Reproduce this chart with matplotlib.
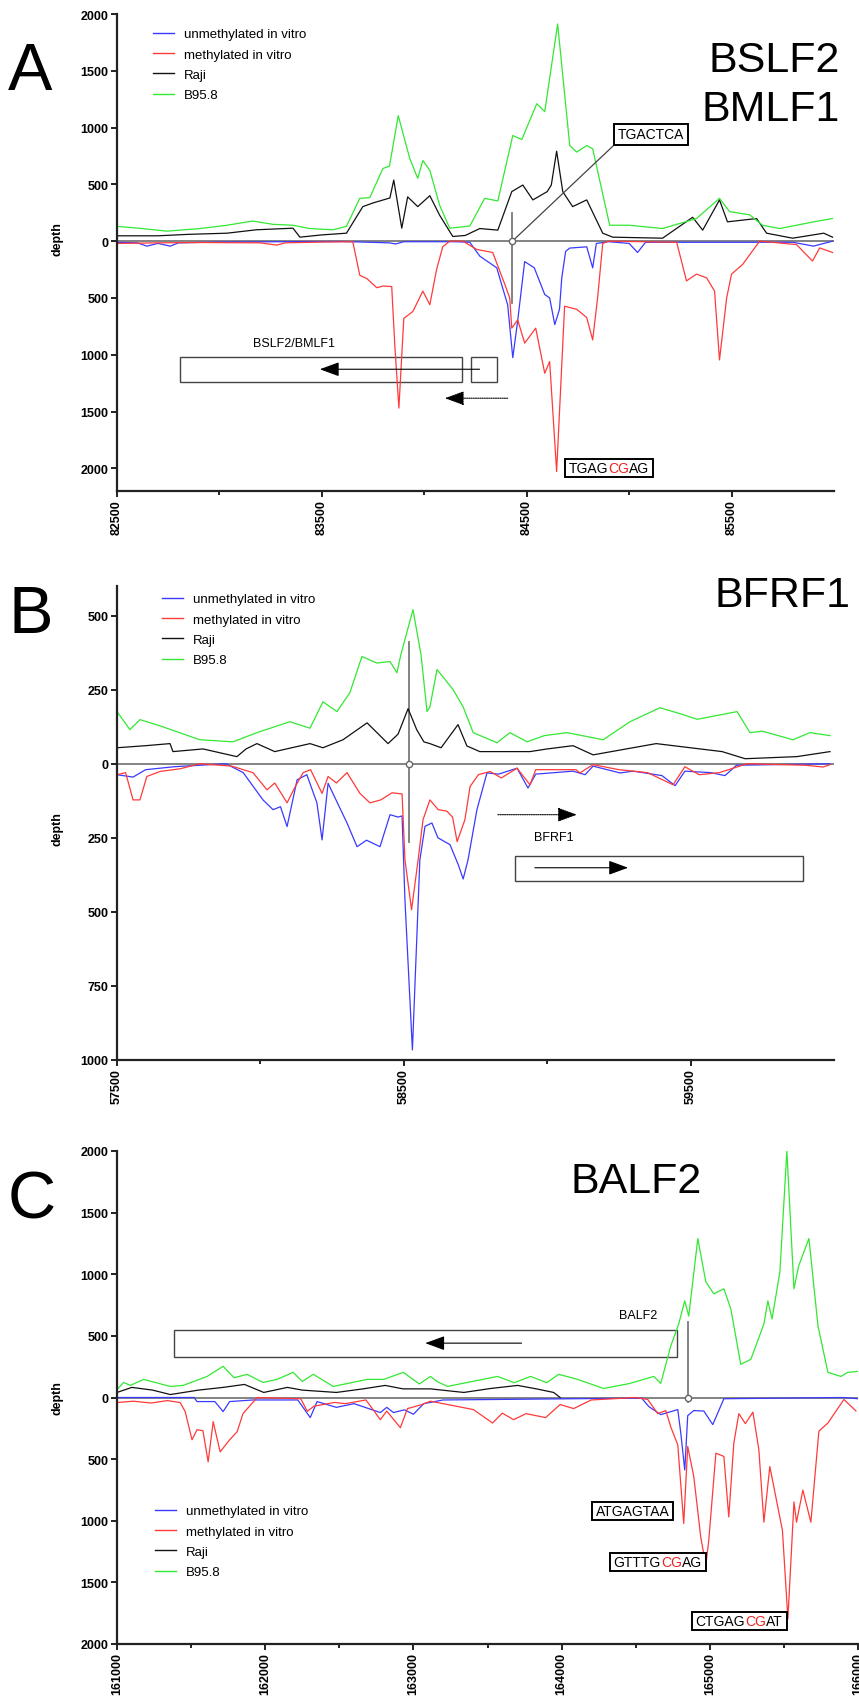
import matplotlib
matplotlib.use('Agg')
import matplotlib.pyplot as plt
from matplotlib.patches import Rectangle
from matplotlib.lines import Line2D
import numpy as np

plt.rcParams['font.family'] = ['Liberation Sans', 'DejaVu Sans']

# ---------------- data (depth per position) ----------------
series_names = ['unmethylated in vitro', 'methylated in vitro', 'Raji', 'B95.8']
series_colors = ['#3a3aff', '#ff3a3a', '#111111', '#33e833']

# Panel A : BSLF2 / BMLF1
a_green_x = [82500, 82600, 82744, 82905, 83037, 83163, 83261, 83359, 83440, 83554, 83620, 83685, 83734,
             83798, 83830, 83873, 83929, 83968, 83993, 84027, 84075, 84124, 84222, 84295, 84359, 84432,
             84476, 84549, 84588, 84651, 84710, 84744, 84793, 84822, 84905, 85002, 85163, 85329, 85441,
             85490, 85588, 85651, 85734, 85817, 85900, 85993]
a_green_y = [130, 115, 88, 111, 140, 177, 148, 140, 111, 100, 130, 377, 383,
             640, 660, 1105, 728, 553, 710, 623, 316, 114, 133, 377, 354, 930,
             895, 1210, 1140, 1912, 842, 784, 842, 813, 140, 140, 111, 199, 377,
             260, 232, 140, 111, 140, 170, 199]
a_black_x = [82500, 82700, 82850, 83037, 83180, 83359, 83393, 83500, 83620, 83700, 83749, 83832, 83851,
             83890, 83919, 83968, 84027, 84075, 84139, 84200, 84271, 84359, 84427, 84481, 84530, 84600,
             84620, 84646, 84676, 84724, 84793, 84871, 84920, 85163, 85310, 85359, 85441, 85480, 85622,
             85671, 85798, 85950, 85993]
a_black_y = [47, 47, 60, 70, 100, 114, 35, 55, 70, 304, 336, 380, 538,
             114, 390, 304, 400, 228, 41, 50, 111, 97, 436, 494, 363, 436,
             494, 792, 436, 304, 363, 70, 35, 26, 210, 97, 363, 170, 199,
             70, 26, 70, 35]
a_blue_x = [82500, 82600, 82646, 82700, 82760, 82800, 83000, 83300, 83600, 83830, 83860, 83900, 84150,
            84222, 84271, 84354, 84378, 84407, 84432, 84456, 84490, 84537, 84588, 84612, 84637, 84660,
            84671, 84690, 84710, 84793, 84822, 84840, 84900, 85000, 85041, 85080, 85800, 85900, 85993]
a_blue_d = [10, 15, 44, 20, 44, 15, 8, 5, 3, 15, 25, 5, 5,
            10, 132, 235, 385, 560, 1026, 700, 180, 235, 470, 500, 735, 600,
            325, 90, 61, 50, 235, 20, 5, 20, 100, 10, 10, 44, 0]
a_red_x = [82500, 82700, 82900, 83200, 83280, 83320, 83500, 83651, 83685, 83720, 83768, 83800, 83841,
           83856, 83876, 83900, 83944, 83993, 84027, 84060, 84090, 84124, 84188, 84256, 84334, 84393,
           84417, 84427, 84456, 84490, 84544, 84588, 84612, 84646, 84685, 84744, 84793, 84822, 84846,
           84871, 84900, 85232, 85280, 85329, 85378, 85417, 85441, 85476, 85500, 85554, 85637, 85817,
           85895, 85930, 85993]
a_red_d = [20, 15, 12, 15, 35, 15, 8, 5, 300, 330, 410, 395, 400,
           913, 1470, 680, 620, 440, 560, 250, 50, 0, 0, 73, 100, 380,
           500, 766, 693, 898, 766, 1163, 1060, 2028, 573, 600, 673, 870, 500,
           20, 0, 10, 350, 290, 323, 440, 1046, 500, 290, 205, 0, 30,
           175, 60, 100]

# Panel B : BFRF1
b_green_x = [57500, 57545, 57580, 57650, 57789, 57904, 57988, 58103, 58173, 58218, 58267, 58312, 58354,
             58406, 58452, 58476, 58490, 58532, 58560, 58581, 58591, 58616, 58672, 58707, 58742, 58825,
             58870, 58930, 58990, 59069, 59195, 59289, 59393, 59463, 59523, 59662, 59707, 59750, 59857,
             59916, 59986]
b_green_y = [176, 115, 149, 128, 81, 74, 105, 142, 120, 209, 176, 240, 362,
             340, 345, 307, 369, 520, 368, 176, 192, 318, 250, 192, 105, 71,
             105, 74, 95, 105, 81, 142, 189, 169, 150, 176, 105, 110, 81,
             105, 95]
b_black_x = [57500, 57600, 57685, 57695, 57800, 57918, 57950, 57988, 58050, 58173, 58218, 58288, 58372,
             58445, 58480, 58515, 58545, 58570, 58591, 58630, 58689, 58720, 58765, 58940, 59000, 59090,
             59160, 59380, 59610, 59690, 59870, 59986]
b_black_y = [54, 61, 68, 41, 50, 24, 50, 68, 41, 68, 54, 81, 138,
             68, 100, 186, 115, 74, 68, 54, 132, 60, 41, 41, 50, 61,
             30, 68, 41, 17, 24, 41]
b_blue_x = [57500, 57556, 57600, 57700, 57880, 57940, 58009, 58044, 58070, 58093, 58128, 58162, 58197,
            58215, 58236, 58302, 58337, 58370, 58417, 58452, 58480, 58494, 58504, 58530, 58556, 58574,
            58598, 58619, 58661, 58690, 58707, 58724, 58755, 58790, 58830, 58895, 58933, 58960, 59090,
            59132, 59160, 59254, 59300, 59400, 59446, 59480, 59570, 59620, 59660, 59986]
b_blue_d = [37, 45, 20, 10, 0, 30, 122, 155, 145, 212, 54, 37, 132,
            257, 66, 200, 280, 258, 280, 172, 180, 176, 460, 966, 324, 211,
            200, 250, 273, 341, 389, 324, 155, 31, 35, 15, 82, 35, 25,
            37, 8, 31, 25, 40, 74, 25, 30, 40, 5, 0]
b_red_x = [57500, 57530, 57556, 57580, 57604, 57650, 57720, 57789, 57900, 57974, 58023, 58050, 58093,
           58120, 58149, 58175, 58215, 58236, 58265, 58302, 58347, 58382, 58420, 58459, 58494, 58504,
           58527, 58550, 58567, 58591, 58620, 58650, 58670, 58686, 58713, 58731, 58760, 58801, 58840,
           58895, 58940, 58960, 59100, 59114, 59160, 59250, 59350, 59439, 59480, 59530, 59600, 59697,
           59900, 59962, 59986]
b_red_d = [37, 30, 122, 122, 43, 26, 17, 0, 8, 30, 88, 65, 132,
           80, 30, 20, 100, 43, 65, 30, 100, 132, 122, 98, 102, 324,
           493, 324, 189, 122, 155, 160, 180, 263, 189, 77, 37, 26, 48,
           15, 71, 20, 20, 31, 3, 20, 30, 71, 10, 37, 30, 0,
           5, 11, 3]

# Panel C : BALF2
c_green_x = [161000, 161045, 161090, 161180, 161358, 161446, 161608, 161716, 161790, 161878, 161986, 162080,
             162189, 162250, 162324, 162459, 162689, 162800, 162932, 163040, 163115, 163160, 163230, 163568,
             163680, 163791, 163900, 163980, 164100, 164284, 164460, 164622, 164669, 164736, 164790, 164831,
             164858, 164919, 164973, 165027, 165095, 165142, 165209, 165277, 165365, 165392, 165420, 165473,
             165520, 165568, 165600, 165669, 165730, 165797, 165885, 165930, 166000]
c_green_y = [65, 122, 98, 147, 90, 98, 171, 253, 160, 188, 122, 147,
             204, 130, 188, 90, 147, 147, 204, 110, 171, 130, 90, 171,
             120, 171, 120, 188, 150, 73, 114, 171, 114, 416, 596, 784,
             661, 1290, 939, 841, 882, 718, 269, 310, 596, 784, 637, 1020,
             2000, 882, 1069, 1290, 580, 204, 171, 204, 212]
c_black_x = [161000, 161100, 161240, 161360, 161550, 161716, 161860, 161990, 162150, 162250, 162480, 162660,
             162810, 162930, 163115, 163340, 163520, 163703, 163830, 163946, 163990]
c_black_y = [41, 82, 60, 24, 60, 82, 106, 41, 82, 60, 41, 70,
             98, 70, 70, 41, 73, 98, 70, 41, 0]
c_blue_x = [161000, 161520, 161540, 161660, 161716, 161760, 161919, 162220, 162304, 162350, 162480, 162600,
            162777, 162820, 162865, 162940, 163000, 163070, 163200, 164540, 164588, 164669, 164784, 164804,
            164831, 164851, 164892, 164960, 165020, 165095, 165500, 165900, 166000]
c_blue_d = [0, 0, 33, 33, 114, 33, 20, 20, 163, 33, 80, 50,
            122, 80, 122, 100, 136, 50, 20, 5, 73, 139, 98, 286,
            588, 147, 106, 110, 220, 10, 5, 0, 10]
c_red_x = [161000, 161110, 161230, 161340, 161426, 161460, 161506, 161540, 161580, 161615, 161649, 161696,
           161760, 161811, 161850, 161946, 162240, 162284, 162330, 162470, 162540, 162680, 162777, 162820,
           162912, 162960, 163050, 163115, 163405, 163534, 163600, 163676, 163760, 163892, 163990, 164081,
           164200, 164500, 164581, 164649, 164703, 164736, 164784, 164824, 164851, 164892, 164939, 164973,
           164993, 165041, 165095, 165128, 165162, 165196, 165240, 165291, 165331, 165365, 165405, 165459,
           165490, 165527, 165568, 165585, 165628, 165682, 165736, 165797, 165905, 165986]
c_red_d = [41, 30, 45, 25, 41, 114, 343, 261, 270, 522, 196, 441,
           343, 277, 131, 0, 10, 112, 70, 40, 50, 20, 180, 110,
           245, 90, 60, 30, 98, 207, 127, 180, 131, 163, 57, 90,
           20, 0, 16, 131, 106, 237, 384, 1022, 397, 642, 1134, 1361,
           1160, 452, 478, 969, 370, 131, 212, 119, 424, 1012, 560, 889,
           1077, 1796, 847, 1012, 751, 1012, 273, 207, 16, 109]

# ---------------- helpers ----------------
def draw_series(ax, blue, red, black, green):
    ax.plot(blue[0], -np.array(blue[1]), color=series_colors[0], lw=0.9, label=series_names[0])
    ax.plot(red[0], -np.array(red[1]), color=series_colors[1], lw=0.9, label=series_names[1])
    ax.plot(black[0], black[1], color=series_colors[2], lw=0.9, label=series_names[2])
    ax.plot(green[0], green[1], color=series_colors[3], lw=0.9, label=series_names[3])


def style_axes(ax, xlim, ylim, yticks, xmajor, xminor):
    ax.set_xlim(*xlim)
    ax.set_ylim(*ylim)
    for s in ['top', 'right']:
        ax.spines[s].set_visible(False)
    for s in ['left', 'bottom']:
        ax.spines[s].set_linewidth(1.6)
        ax.spines[s].set_color('#222222')
    ax.set_yticks(yticks)
    ax.set_yticklabels([str(abs(v)) for v in yticks], fontsize=9, fontweight='bold')
    ax.set_xticks(xmajor)
    ax.set_xticklabels([str(v) for v in xmajor], fontsize=9, fontweight='bold', rotation=90)
    ax.set_xticks(xminor, minor=True)
    ax.tick_params(axis='both', which='major', length=4, width=1.4, color='#222222', pad=2)
    ax.tick_params(axis='x', which='minor', length=3, width=1.4, color='#222222')
    ax.axhline(0, color='#7a7a7a', lw=1.3, zorder=1.5)
    ax.set_ylabel('depth', fontsize=9, fontweight='bold')


def site_marker(ax, x, y0, y1):
    ax.plot([x, x], [y0, y1], color='#7a7a7a', lw=1.3, zorder=1.6)
    ax.plot([x], [0], 'o', mfc='white', mec='#666666', ms=4.5, mew=1.0, zorder=4)


def arrow(ax, x0, x1, y, dotted=False):
    ax.annotate('', xy=(x1, y), xytext=(x0, y),
                arrowprops=dict(arrowstyle='-|>,head_length=0.6,head_width=0.22', color='black',
                                lw=0.8, ls=(0, (1, 1)) if dotted else '-', mutation_scale=20,
                                shrinkA=0, shrinkB=0))


seq_groups = []


def seq_label(ax, x, y, parts, fs=10):
    pieces = []
    t = ax.text(x, y, parts[0][0], color=parts[0][1], fontsize=fs, ha='left', va='center', zorder=7)
    pieces.append(t)
    for s, c in parts[1:]:
        t = ax.annotate(s, xy=(1, 0), xycoords=t, va='bottom', ha='left', color=c, fontsize=fs, zorder=7)
        pieces.append(t)
    seq_groups.append((ax, pieces))


def legend(ax, x, y):
    handles = [Line2D([], [], color=c, lw=1.0) for c in series_colors]
    ax.legend(handles, series_names, loc='upper left', bbox_to_anchor=(x, y),
              bbox_transform=fig.transFigure, frameon=False, fontsize=9.5,
              handlelength=1.6, handletextpad=0.75, labelspacing=0.62, borderpad=0, borderaxespad=0)


# ---------------- figure ----------------
fig = plt.figure(figsize=(8.59, 16.99), dpi=100)
W, H = 859.0, 1699.0

axA = fig.add_axes([117 / W, 1 - 492 / H, 717 / W, 477 / H])
axB = fig.add_axes([117 / W, 1 - 1061 / H, 717 / W, 474 / H])
axC = fig.add_axes([117 / W, 1 - 1645 / H, 741 / W, 493 / H])

# ---- panel A
draw_series(axA, (a_blue_x, a_blue_d), (a_red_x, a_red_d), (a_black_x, a_black_y), (a_green_x, a_green_y))
style_axes(axA, (82500, 86000), (-2200, 2000), list(range(-2000, 2001, 500)),
           [82500, 83500, 84500, 85500], [83000, 84000, 85000])
axA.yaxis.set_label_coords(-0.075, 0.53)
site_marker(axA, 84430, -545, 245)
axA.plot([84430, 84924], [0, 842], color='#444444', lw=0.9)
axA.text(84944, 940, 'TGACTCA', fontsize=10, ha='left', va='center', zorder=7,
         bbox=dict(boxstyle='square,pad=0.25', fc='white', ec='black', lw=1.4))
seq_label(axA, 84705, -2000, [('TGAG', 'black'), ('CG', '#ee2222'), ('AG', 'black')])
axA.add_patch(Rectangle((82807, -1242), 84183 - 82807, 220, fill=False, ec='#444444', lw=1.0))
axA.add_patch(Rectangle((84227, -1242), 84354 - 84227, 220, fill=False, ec='#444444', lw=1.0))
arrow(axA, 84270, 83490, -1128)
arrow(axA, 84407, 84100, -1383, dotted=True)
axA.text(83363, -900, 'BSLF2/BMLF1', fontsize=9, ha='center', va='center')
legend(axA, 153 / W, 1 - 29 / H)
fig.text(8 / W, 1 - 90 / H, 'A', fontsize=48, va='baseline', ha='left')
fig.text(840 / W, 1 - 72 / H, 'BSLF2', fontsize=31, va='baseline', ha='right')
fig.text(840 / W, 1 - 121 / H, 'BMLF1', fontsize=31, va='baseline', ha='right')

# ---- panel B
draw_series(axB, (b_blue_x, b_blue_d), (b_red_x, b_red_d), (b_black_x, b_black_y), (b_green_x, b_green_y))
style_axes(axB, (57500, 60000), (-1000, 600), list(range(-1000, 501, 250)),
           [57500, 58500, 59500], [58000, 59000])
axB.yaxis.set_label_coords(-0.075, 0.49)
site_marker(axB, 58518, -263, 410)
arrow(axB, 58828, 59104, -172, dotted=True)
axB.text(59024, -247, 'BFRF1', fontsize=9, ha='center', va='center')
axB.add_patch(Rectangle((58888, -395), 59892 - 58888, 84, fill=False, ec='#444444', lw=1.0))
arrow(axB, 58957, 59282, -351)
legend(axB, 162 / W, 1 - 594 / H)
fig.text(8 / W, 1 - 633 / H, 'B', fontsize=48, va='baseline', ha='left')
fig.text(850 / W, 1 - 607 / H, 'BFRF1', fontsize=31, va='baseline', ha='right')

# ---- panel C
draw_series(axC, (c_blue_x, c_blue_d), (c_red_x, c_red_d), (c_black_x, c_black_y), (c_green_x, c_green_y))
style_axes(axC, (161000, 166000), (-2000, 2000), list(range(-2000, 2001, 500)),
           list(range(161000, 166001, 1000)), list(range(161500, 166000, 1000)))
axC.yaxis.set_label_coords(-0.072, 0.5)
site_marker(axC, 164851, -40, 615)
axC.add_patch(Rectangle((161385, 329), 164777 - 161385, 218, fill=False, ec='#444444', lw=1.0))
arrow(axC, 163730, 163080, 441)
axC.text(164514, 670, 'BALF2', fontsize=9, ha='center', va='center')
seq_label(axC, 164230, -922, [('ATGAGTAA', 'black')])
seq_label(axC, 164351, -1331, [('GTTTG', 'black'), ('CG', '#ee2222'), ('AG', 'black')])
seq_label(axC, 164905, -1812, [('CTGAG', 'black'), ('CG', '#ee2222'), ('AT', 'black')])
legend(axC, 155 / W, 1 - 1506 / H)
fig.text(8 / W, 1 - 1219 / H, 'C', fontsize=48, va='baseline', ha='left')
fig.text(636 / W, 1 - 1193 / H, 'BALF2', fontsize=31, va='baseline', ha='center')

# boxes round the coloured sequence labels (drawn under the text, over the curves)
fig.canvas.draw()
renderer = fig.canvas.get_renderer()
inv = fig.transFigure.inverted()
for ax, pieces in seq_groups:
    boxes = [p.get_window_extent(renderer) for p in pieces]
    x0 = min(b.x0 for b in boxes) - 4
    x1 = max(b.x1 for b in boxes) + 4
    y0 = min(b.y0 for b in boxes) - 2
    y1 = max(b.y1 for b in boxes) + 2
    (fx0, fy0), (fx1, fy1) = inv.transform([(x0, y0), (x1, y1)])
    ax.add_patch(Rectangle((fx0, fy0), fx1 - fx0, fy1 - fy0, transform=fig.transFigure,
                           fill=True, fc='white', ec='black', lw=1.4, zorder=6, clip_on=False))

fig.savefig('out.png', dpi=100)
